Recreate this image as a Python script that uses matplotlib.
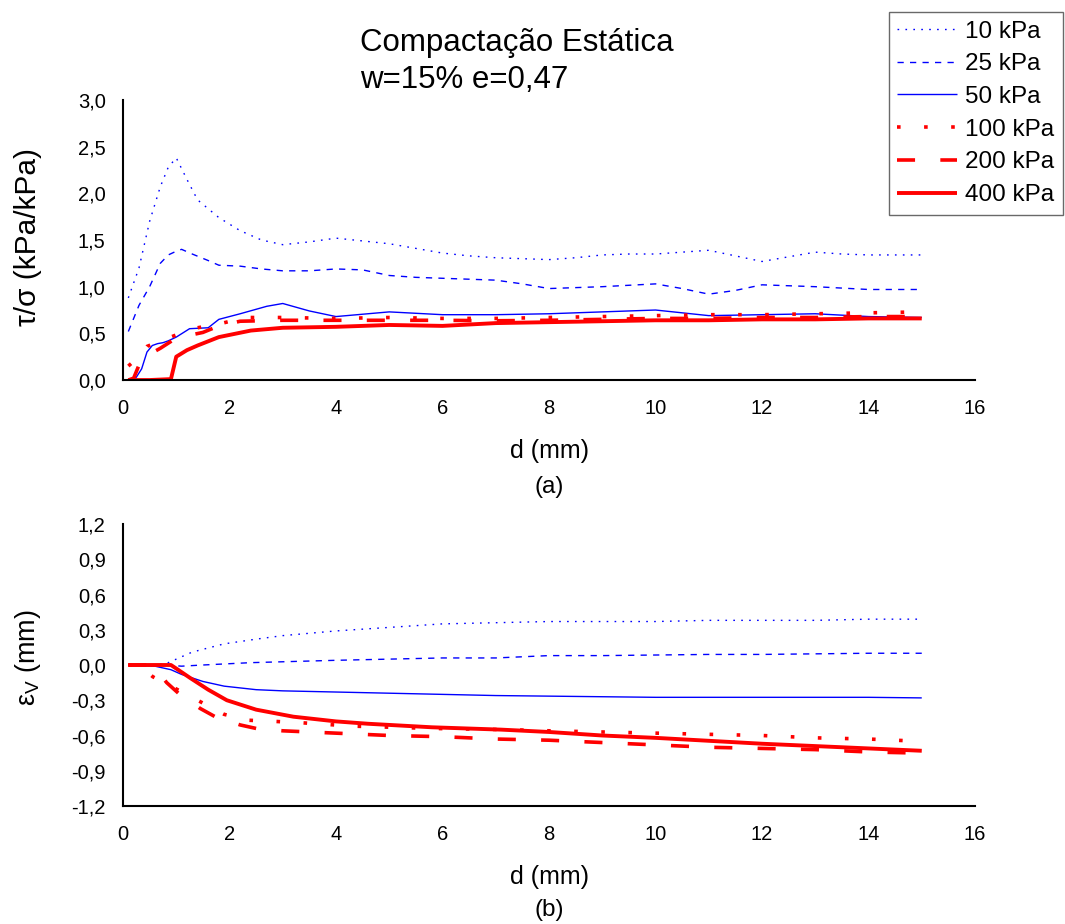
import numpy as np
import matplotlib
matplotlib.use("Agg")
import matplotlib.pyplot as plt

plt.rcParams['font.family'] = ['Liberation Sans', 'DejaVu Sans']

labels = ['10 kPa', '25 kPa', '50 kPa', '100 kPa', '200 kPa', '400 kPa']

# (a) tau/sigma vs d
x10a = [0.1, 0.3, 0.5, 0.7, 0.85, 1.0, 1.2, 1.4, 1.8, 2.2, 2.6, 3.0, 3.5, 4.0, 4.5, 5.0, 5.5, 6.0, 6.5,
        7.0, 7.5, 8.0, 8.5, 9.0, 9.5, 10.0, 10.5, 11.0, 11.5, 12.0, 12.5, 13.0, 13.5, 14.0, 14.5, 15.0]
y10a = [0.88, 1.20, 1.70, 2.07, 2.28, 2.38, 2.15, 1.93, 1.74, 1.60, 1.50, 1.45, 1.48, 1.52, 1.49, 1.46, 1.41, 1.36, 1.33,
        1.31, 1.30, 1.29, 1.31, 1.34, 1.35, 1.35, 1.37, 1.39, 1.33, 1.27, 1.32, 1.37, 1.35, 1.34, 1.34, 1.34]

x25a = [0.1, 0.3, 0.5, 0.7, 0.85, 1.0, 1.1, 1.3, 1.6, 1.8, 2.2, 2.6, 3.0, 3.5, 4.0, 4.5, 5.0, 5.5, 6.0, 6.5,
        7.0, 7.5, 8.0, 9.0, 10.0, 10.5, 11.0, 11.5, 12.0, 13.0, 14.0, 15.0]
y25a = [0.52, 0.80, 1.00, 1.25, 1.34, 1.38, 1.40, 1.35, 1.28, 1.23, 1.22, 1.19, 1.17, 1.17, 1.19, 1.18, 1.12, 1.10, 1.09, 1.08,
        1.07, 1.03, 0.98, 1.00, 1.03, 0.98, 0.92, 0.96, 1.02, 1.00, 0.97, 0.97]

x50a = [0.15, 0.25, 0.35, 0.45, 0.55, 0.65, 0.75, 0.85, 1.0, 1.25, 1.6, 1.8, 2.2, 2.7, 3.0, 3.5, 4.0, 5.0,
        6.0, 7.0, 8.0, 9.0, 10.0, 11.0, 12.0, 13.0, 14.0, 15.0]
y50a = [0.0, 0.03, 0.12, 0.30, 0.37, 0.39, 0.40, 0.42, 0.46, 0.55, 0.56, 0.65, 0.71, 0.79, 0.82, 0.74, 0.68, 0.73,
        0.70, 0.70, 0.71, 0.73, 0.75, 0.69, 0.70, 0.71, 0.68, 0.67]

x100a = [0.1, 0.3, 0.45, 0.85, 1.3, 1.8, 2.3, 3.0, 4.0, 5.0, 6.0, 7.0, 8.0, 9.0, 10.0, 11.0, 12.0, 13.0, 14.0, 15.0]
y100a = [0.15, 0.25, 0.36, 0.45, 0.55, 0.60, 0.67, 0.67, 0.66, 0.67, 0.66, 0.66, 0.67, 0.68, 0.69, 0.70, 0.70, 0.71, 0.72, 0.73]

x200a = [0.1, 0.2, 0.35, 0.7, 1.0, 1.5, 1.8, 2.2, 3.0, 4.0, 5.0, 6.0, 7.0, 8.0, 9.0, 10.0, 11.0, 12.0, 13.0, 14.0, 15.0]
y200a = [0.0, 0.02, 0.23, 0.34, 0.45, 0.51, 0.58, 0.63, 0.64, 0.64, 0.64, 0.64, 0.635, 0.64, 0.65, 0.66, 0.66, 0.67, 0.67, 0.68, 0.68]

x400a = [0.1, 0.5, 0.9, 1.0, 1.2, 1.4, 1.8, 2.4, 3.0, 4.0, 5.0, 6.0, 7.0, 8.0, 9.0, 10.0, 11.0, 12.0, 13.0, 14.0, 15.0]
y400a = [0.0, 0.0, 0.01, 0.25, 0.32, 0.37, 0.46, 0.53, 0.56, 0.57, 0.59, 0.58, 0.61, 0.62, 0.63, 0.64, 0.64, 0.65, 0.65, 0.66, 0.66]

# (b) volumetric strain vs d
x10b = [0.1, 0.5, 0.8, 1.0, 1.3, 1.9, 2.5, 3.0, 4.0, 5.0, 6.0, 7.0, 8.0, 9.0, 10.0, 11.0, 12.0, 13.0, 14.0, 15.0]
y10b = [0.0, 0.0, 0.01, 0.05, 0.11, 0.18, 0.22, 0.25, 0.29, 0.32, 0.35, 0.36, 0.37, 0.37, 0.37, 0.38, 0.38, 0.38, 0.39, 0.39]

x25b = [0.1, 0.5, 0.8, 1.1, 1.5, 2.4, 4.0, 5.0, 6.0, 7.0, 8.0, 9.0, 10.0, 11.0, 12.0, 13.0, 14.0, 15.0]
y25b = [0.0, 0.0, 0.0, -0.01, 0.0, 0.02, 0.04, 0.05, 0.06, 0.06, 0.08, 0.08, 0.085, 0.09, 0.09, 0.095, 0.10, 0.10]

x50b = [0.1, 0.6, 0.9, 1.1, 1.5, 1.9, 2.5, 3.0, 4.0, 5.0, 6.0, 7.0, 8.0, 9.0, 10.0, 11.0, 12.0, 13.0, 14.0, 15.0]
y50b = [0.0, -0.01, -0.04, -0.08, -0.14, -0.18, -0.21, -0.22, -0.23, -0.24, -0.25, -0.26, -0.265, -0.27, -0.275,
        -0.275, -0.275, -0.275, -0.275, -0.28]

x100b = [0.1, 0.3, 0.56, 0.9, 1.4, 1.9, 2.35, 2.85, 3.3, 4.3, 5.8, 7.2, 8.0, 9.0, 10.0, 11.0, 12.0, 13.0, 14.0, 15.0]
y100b = [0.0, 0.0, -0.10, -0.18, -0.30, -0.42, -0.47, -0.48, -0.49, -0.52, -0.54, -0.55, -0.56, -0.57, -0.58, -0.59,
         -0.60, -0.62, -0.63, -0.65]

x200b = [0.1, 0.5, 0.7, 0.82, 1.04, 1.45, 1.73, 2.2, 2.5, 3.0, 3.5, 4.0, 5.0, 6.0, 7.0, 8.0, 9.0, 10.0, 11.0, 12.0,
         13.0, 14.0, 15.0]
y200b = [0.0, 0.0, -0.08, -0.15, -0.24, -0.37, -0.44, -0.51, -0.54, -0.56, -0.57, -0.58, -0.60, -0.61, -0.63, -0.64,
         -0.66, -0.68, -0.70, -0.71, -0.72, -0.74, -0.75]

x400b = [0.1, 0.5, 0.9, 1.0, 1.26, 1.6, 1.95, 2.5, 3.2, 4.0, 4.6, 5.8, 7.1, 8.0, 9.0, 10.0, 11.0, 12.0, 13.0, 14.0, 15.0]
y400b = [0.0, 0.0, 0.0, -0.03, -0.11, -0.21, -0.30, -0.38, -0.44, -0.48, -0.50, -0.53, -0.55, -0.57, -0.60, -0.62,
         -0.645, -0.67, -0.69, -0.71, -0.73]

xticks = [0, 2, 4, 6, 8, 10, 12, 14, 16]
yticks_a = [0.0, 0.5, 1.0, 1.5, 2.0, 2.5, 3.0]
yticks_b = [-1.2, -0.9, -0.6, -0.3, 0.0, 0.3, 0.6, 0.9, 1.2]

blue = '#0000ff'
red = '#ff0000'
styles = [
    dict(color=blue, lw=1.0, ls=(0, (1.2, 4.5))),
    dict(color=blue, lw=1.0, ls=(0, (4.5, 4.5))),
    dict(color=blue, lw=1.0, ls='-'),
    dict(color=red, lw=2.6, ls=(0, (1, 6.5))),
    dict(color=red, lw=2.6, ls=(0, (5, 7))),
    dict(color=red, lw=2.8, ls='-'),
]

def fmt(v):
    return ('%.1f' % v).replace('.', ',')

fig = plt.figure(figsize=(10.65, 9.24), dpi=100)
ax1 = fig.add_axes([0.1155, 0.5887, 0.8, 0.3031])
ax2 = fig.add_axes([0.1155, 0.1277, 0.8, 0.3052])

series_a = [(x10a, y10a), (x25a, y25a), (x50a, y50a), (x100a, y100a), (x200a, y200a), (x400a, y400a)]
series_b = [(x10b, y10b), (x25b, y25b), (x50b, y50b), (x100b, y100b), (x200b, y200b), (x400b, y400b)]

handles = []
for (xs, ys), st, lab in zip(series_a, styles, labels):
    h, = ax1.plot(xs, ys, label=lab, solid_capstyle='butt', dash_capstyle='butt', **st)
    handles.append(h)
for (xs, ys), st in zip(series_b, styles):
    ax2.plot(xs, ys, solid_capstyle='butt', dash_capstyle='butt', **st)

for ax, yt in [(ax1, yticks_a), (ax2, yticks_b)]:
    ax.set_xlim(0, 16)
    ax.set_ylim(yt[0], yt[-1])
    ax.set_xticks(xticks)
    ax.set_xticklabels([str(t) for t in xticks])
    ax.set_yticks(yt)
    ax.set_yticklabels([fmt(t) for t in yt])
    ax.tick_params(length=0, labelsize=14.5)
    ax.tick_params(axis='x', pad=14)
    ax.tick_params(axis='y', pad=12.5)
    ax.spines['top'].set_visible(False)
    ax.spines['right'].set_visible(False)
    ax.spines['left'].set_linewidth(1.5)
    ax.spines['bottom'].set_linewidth(1.5)
    ax.set_xlabel('d (mm)', fontsize=18, labelpad=15)

ax1.set_ylabel('τ/σ (kPa/kPa)', fontsize=21.5)
ax1.yaxis.set_label_coords(-0.095, 0.51)
ax2.set_ylabel('ε$_\\mathregular{V}$ (mm)', fontsize=19.5)
ax2.yaxis.set_label_coords(-0.094, 0.528)

fig.text(0.5155, 1 - 487 / 924, '(a)', ha='center', va='center', fontsize=17.5)
fig.text(0.5155, 1 - 910 / 924, '(b)', ha='center', va='center', fontsize=17.5)

fig.text(360 / 1065, 1 - 43 / 924, 'Compactação Estática', ha='left', va='center', fontsize=22.5)
fig.text(360 / 1065, 1 - 80 / 924, 'w=15% e=0,47', ha='left', va='center', fontsize=22.5)

leg = fig.legend(handles=handles, loc='upper right', bbox_to_anchor=(1063 / 1065, 1 - 12 / 924),
                 fontsize=17.5, frameon=True, fancybox=False, shadow=False, handlelength=2.45,
                 handletextpad=0.35, labelspacing=0.44, borderpad=0.35, borderaxespad=0)
leg.get_frame().set_edgecolor('#444444')
leg.get_frame().set_linewidth(1.0)

fig.savefig('out.png', dpi=100)
